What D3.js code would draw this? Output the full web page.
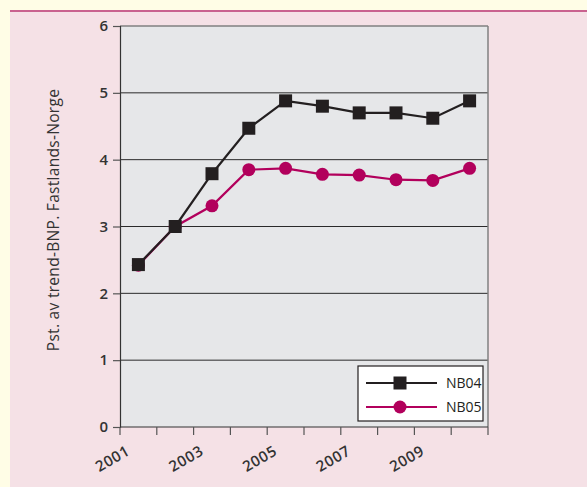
<!DOCTYPE html>
<html>
<head>
<meta charset="utf-8">
<script src="https://cdn.jsdelivr.net/npm/d3@7"></script>
<style>
  html, body { margin: 0; padding: 0; background: #fffde6; }
  svg { display: block; font-family: "Open Sans", Roboto, sans-serif; }
</style>
</head>
<body>
<svg id="chart" width="587" height="487"></svg>
<script>
// Years along the x axis (points sit in the middle of each year band)
const years = [2001, 2002, 2003, 2004, 2005, 2006, 2007, 2008, 2009, 2010];
const yearLabels = ["2001", "2003", "2005", "2007", "2009"];
const nb04 = [2.43, 3.0, 3.79, 4.47, 4.88, 4.8, 4.7, 4.7, 4.62, 4.88];
const nb05 = [2.42, 3.0, 3.31, 3.85, 3.87, 3.78, 3.77, 3.70, 3.69, 3.87];
const yTicks = [0, 1, 2, 3, 4, 5, 6];
const seriesNames = ["NB04", "NB05"];

const svg = d3.select("#chart");
const W = 587, H = 487;

// Panel background
svg.append("rect").attr("x", 10).attr("y", 10).attr("width", W - 10).attr("height", H - 10)
  .attr("fill", "#f5e1e6");
svg.append("rect").attr("x", 10).attr("y", 10).attr("width", W - 10).attr("height", 2)
  .attr("fill", "#c9628f");

const m = { left: 120, right: 488, top: 26, bottom: 427 };

const x = d3.scaleBand().domain(years).range([m.left, m.right]).padding(0);
const y = d3.scaleLinear().domain([0, 6]).range([m.bottom, m.top]);

// Plot area
svg.append("rect").attr("x", m.left).attr("y", m.top)
  .attr("width", m.right - m.left).attr("height", m.bottom - m.top)
  .attr("fill", "#e6e7e9");

// Horizontal grid lines
svg.append("g").selectAll("line").data(yTicks.filter(d => d > 0 && d < 6)).join("line")
  .attr("x1", m.left).attr("x2", m.right)
  .attr("y1", d => y(d)).attr("y2", d => y(d))
  .attr("stroke", "#2a2a2a").attr("stroke-width", 1);

// Frame top and right
svg.append("line").attr("x1", m.left).attr("x2", m.right).attr("y1", m.top).attr("y2", m.top)
  .attr("stroke", "#808080").attr("stroke-width", 1.5);
svg.append("line").attr("x1", m.right).attr("x2", m.right).attr("y1", m.top).attr("y2", m.bottom)
  .attr("stroke", "#808080").attr("stroke-width", 1.5);

// Y axis
const yAxis = svg.append("g").attr("transform", `translate(${m.left},0)`)
  .call(d3.axisLeft(y).tickValues(yTicks).tickSize(7).tickPadding(5).tickFormat(d3.format("d")));
yAxis.select(".domain").attr("stroke", "#333").attr("stroke-width", 1.2);
yAxis.selectAll(".tick line").attr("stroke", "#555").attr("stroke-width", 1.2);
yAxis.selectAll("text").attr("font-size", 15).attr("font-weight", 600).attr("fill", "#333")
  .attr("font-family", "'Open Sans', sans-serif");

// X axis: ticks at every year boundary
const boundaries = years.map(d => x(d)).concat([m.right]);
const xg = svg.append("g");
xg.append("line").attr("x1", m.left).attr("x2", m.right).attr("y1", m.bottom).attr("y2", m.bottom)
  .attr("stroke", "#333").attr("stroke-width", 1.2);
xg.selectAll("line.tk").data(boundaries).join("line").attr("class", "tk")
  .attr("x1", d => d).attr("x2", d => d).attr("y1", m.bottom).attr("y2", m.bottom + 8)
  .attr("stroke", "#555").attr("stroke-width", 1.2);
xg.selectAll("text").data(yearLabels).join("text")
  .attr("transform", d => `translate(${x(+d) + 11},${m.bottom + 27}) rotate(-30)`)
  .attr("text-anchor", "end")
  .attr("font-size", 15).attr("font-weight", 600).attr("fill", "#333")
  .attr("letter-spacing", 0.6)
  .text(d => d);

// Y axis title
svg.append("text")
  .attr("transform", `translate(59,220) rotate(-90)`)
  .attr("text-anchor", "middle")
  .attr("font-family", "'Open Sans', sans-serif")
  .attr("font-size", 15.5).attr("fill", "#333")
  .attr("letter-spacing", 0.3)
  .text("Pst. av trend-BNP. Fastlands-Norge");

const cx = d => x(d) + x.bandwidth() / 2;
const black = "#231f20", magenta = "#b2005c";

const line = vals => d3.line().x((v, i) => cx(years[i])).y(v => y(v))(vals);

// NB05 series
svg.append("path").attr("d", line(nb05)).attr("fill", "none")
  .attr("stroke", magenta).attr("stroke-width", 2.2);
svg.append("g").selectAll("circle").data(nb05).join("circle")
  .attr("cx", (v, i) => cx(years[i])).attr("cy", v => y(v)).attr("r", 6.5)
  .attr("fill", magenta);

// NB04 series
svg.append("path").attr("d", line(nb04)).attr("fill", "none")
  .attr("stroke", black).attr("stroke-width", 2.2);
svg.append("g").selectAll("rect").data(nb04).join("rect")
  .attr("x", (v, i) => cx(years[i]) - 6.5).attr("y", v => y(v) - 6.5)
  .attr("width", 13).attr("height", 13).attr("fill", black);

// Legend
const lg = svg.append("g");
lg.append("rect").attr("x", 358).attr("y", 366).attr("width", 125).attr("height", 55)
  .attr("fill", "#fff").attr("stroke", "#231f20").attr("stroke-width", 1.2);
const legendRows = [
  { name: seriesNames[0], color: black, shape: "square", yy: 383 },
  { name: seriesNames[1], color: magenta, shape: "circle", yy: 407 }
];
legendRows.forEach(r => {
  lg.append("line").attr("x1", 366).attr("x2", 437).attr("y1", r.yy).attr("y2", r.yy)
    .attr("stroke", r.color).attr("stroke-width", 2.2);
  if (r.shape === "square") {
    lg.append("rect").attr("x", 400 - 6.5).attr("y", r.yy - 6.5).attr("width", 13).attr("height", 13)
      .attr("fill", r.color);
  } else {
    lg.append("circle").attr("cx", 400).attr("cy", r.yy).attr("r", 6.5).attr("fill", r.color);
  }
  lg.append("text").attr("x", 446).attr("y", r.yy + 5)
    .attr("font-size", 14).attr("fill", "#231f20").text(r.name);
});
</script>
</body>
</html>
